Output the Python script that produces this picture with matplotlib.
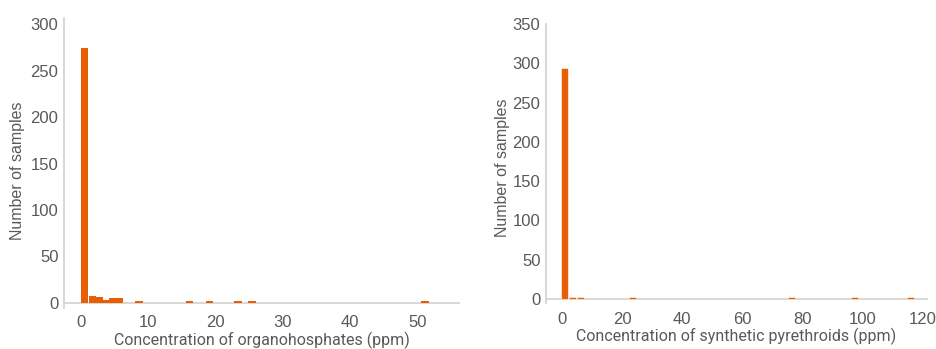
import matplotlib.pyplot as plt
from matplotlib import font_manager

# organophosphates histogram (bin left edge in ppm, count)
op_left = [0, 1.15, 2.2, 3.25, 4.2, 5.2, 8.1, 15.6, 18.6, 22.8, 24.9, 50.6]
op_count = [275, 7, 6, 3, 5, 5, 2, 2, 2, 2, 2, 2]
op_ticks = [0, 10, 20, 30, 40, 50]
op_yticks = [0, 50, 100, 150, 200, 250, 300]

# synthetic pyrethroids histogram (bin centre in ppm, count)
sp_center = [0.85, 3.5, 6.15, 23.4, 76.2, 97.2, 115.8]
sp_count = [294, 3, 3, 3, 3, 3, 3]
sp_ticks = [0, 20, 40, 60, 80, 100, 120]
sp_yticks = [0, 50, 100, 150, 200, 250, 300, 350]

names = {f.name for f in font_manager.fontManager.ttflist}
tick_font = "Liberation Sans Narrow" if "Liberation Sans Narrow" in names else "Liberation Sans"
label_font = "Roboto"

orange = "#E85E05"
axis_col = "#D4D4D4"
text_col = "#595959"

W, H = 936, 349
fig = plt.figure(figsize=(W / 100, H / 100), dpi=100)


def make_ax(x0, x1, ytop, ybot):
    return fig.add_axes([x0 / W, (H - ybot) / H, (x1 - x0) / W, (ybot - ytop) / H])


def style(ax, xlim, ylim, xt, yt, xlabel, ylab_x, ylab_y):
    ax.set_xlim(*xlim)
    ax.set_ylim(*ylim)
    ax.set_xticks(xt)
    ax.set_yticks(yt)
    for s in ["top", "right"]:
        ax.spines[s].set_visible(False)
    ax.spines["bottom"].set_position(("data", 0))
    for s in ["left", "bottom"]:
        ax.spines[s].set_color(axis_col)
        ax.spines[s].set_linewidth(1.3)
        ax.spines[s].set_zorder(1)
    ax.tick_params(length=0, colors=text_col, labelsize=12)
    ax.tick_params(axis="y", pad=4)
    ax.tick_params(axis="x", pad=9)
    for lab in ax.get_xticklabels() + ax.get_yticklabels():
        lab.set_family(tick_font)
    ax.set_ylabel("Number of samples", fontsize=11.5, color=text_col,
                  family=tick_font)
    ax.yaxis.set_label_coords(ylab_x, ylab_y)
    ax.set_xlabel(xlabel, fontsize=11.5, color=text_col, family=label_font,
                  labelpad=1)


ax1 = make_ax(64, 459, 18, 308)
ax1.bar(op_left, op_count, width=1.1, align="edge", color=orange, zorder=3)
style(ax1, (-2.5, 56.2), (-5.5, 307), op_ticks, op_yticks,
      "Concentration of organohosphates (ppm)", -0.099, 0.474)

ax2 = make_ax(546, 927, 24, 303)
ax2.bar(sp_center, sp_count, width=2.3, color=orange, edgecolor="white",
        linewidth=0.4, zorder=3)
style(ax2, (-5.3, 121.3), (-5, 350), sp_ticks, sp_yticks,
      "Concentration of synthetic pyrethroids (ppm)", -0.094, 0.484)

fig.savefig("out.png", dpi=100)
